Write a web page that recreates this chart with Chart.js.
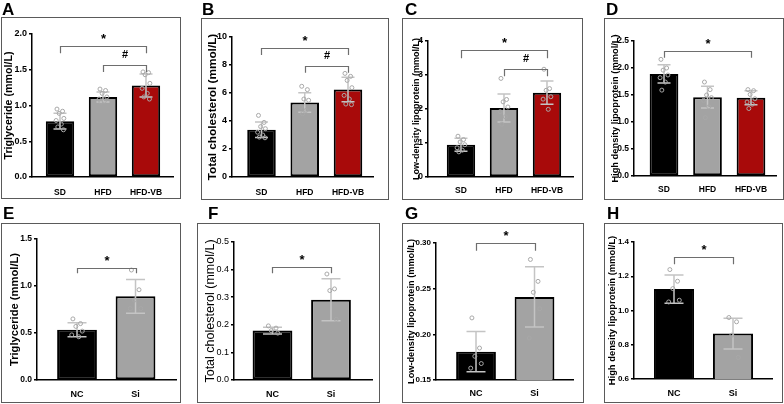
<!DOCTYPE html>
<html><head><meta charset="utf-8">
<script src="https://cdn.jsdelivr.net/npm/chart.js@4.4.1/dist/chart.umd.min.js"></script>
<style>
html,body{margin:0;padding:0;background:#fff;}
#wrap{position:relative;width:784px;height:404px;overflow:hidden;background:#fff;}
.box{position:absolute;box-sizing:border-box;border:1px solid #5a5a5a;pointer-events:none;}
canvas{position:absolute;}
.lab{position:absolute;font:bold 17px "Liberation Sans",Arial,sans-serif;line-height:17px;color:#000;}
</style></head>
<body><div id="wrap"></div>
<script>
// ---------- categories ----------
const topGroups = ['SD', 'HFD', 'HFD-VB'];
const botGroups = ['NC', 'Si'];

// ---------- A: Triglyceride (top) ----------
const tgMeans = [0.78, 1.12, 1.28];
const tgSd = [0.11, 0.07, 0.16];
const tgPoints = [[0.95, 0.92, 0.89, 0.82, 0.79, 0.74, 0.70, 0.66], [1.23, 1.21, 1.17, 1.12, 1.09, 1.06, 1.05], [1.47, 1.46, 1.43, 1.31, 1.24, 1.17, 1.12, 1.09]];
const tgTicks = [0, 0.5, 1.0, 1.5, 2.0];
const tgBrackets = [[0, 2, 1.83, 1.73, '*'], [1, 2, 1.57, 1.47, '#']];

// ---------- B: Total cholesterol (top) ----------
const tcMeans = [3.38, 5.32, 6.25];
const tcSd = [0.55, 0.70, 0.88];
const tcPoints = [[4.4, 3.9, 3.6, 3.45, 3.2, 3.0, 2.85, 2.8], [6.48, 6.24, 5.57, 5.48, 5.0, 4.76, 4.52], [7.4, 7.19, 6.9, 6.38, 5.83, 5.57, 5.21, 5.17]];
const tcTicks = [0, 2, 4, 6, 8, 10];
const tcBrackets = [[0, 2, 9.24, 8.71, '*'], [1, 2, 7.93, 7.45, '#']];

// ---------- C: LDL (top) ----------
const ldlMeans = [0.95, 2.03, 2.48];
const ldlSd = [0.19, 0.41, 0.34];
const ldlPoints = [[1.2, 1.1, 1.03, 0.95, 0.86, 0.79, 0.74], [2.9, 2.28, 2.21, 2.06, 1.92, 1.77, 1.55], [3.17, 2.6, 2.55, 2.36, 2.29, 1.99]];
const ldlTicks = [0, 1, 2, 3, 4];
const ldlBrackets = [[0, 2, 3.735, 3.49, '*'], [1, 2, 3.18, 2.96, '#']];

// ---------- D: HDL (top) ----------
const hdlMeans = [1.89, 1.46, 1.45];
const hdlSd = [0.17, 0.20, 0.13];
const hdlPoints = [[2.16, 2.0, 1.96, 1.87, 1.82, 1.74, 1.59], [1.74, 1.6, 1.5, 1.45, 1.4, 1.28, 1.08], [1.6, 1.58, 1.51, 1.43, 1.37, 1.33, 1.25]];
const hdlTicks = [0, 0.5, 1.0, 1.5, 2.0, 2.5];
const hdlBrackets = [[0, 2, 2.31, 2.19, '*']];

// ---------- E: Triglyceride (bottom) ----------
const tg2Means = [0.535, 0.89];
const tg2Sd = [0.075, 0.18];
const tg2Points = [[0.65, 0.60, 0.57, 0.52, 0.48, 0.46], [1.17, 0.96, 0.85, 0.76, 0.76]];
const tg2Ticks = [0, 0.5, 1.0, 1.5];
const tg2Brackets = [[0, 1, 1.188, 1.135, '*']];

// ---------- F: Total cholesterol (bottom) ----------
const tc2Means = [0.179, 0.291];
const tc2Sd = [0.012, 0.076];
const tc2Points = [[0.196, 0.188, 0.179, 0.170], [0.384, 0.330, 0.324, 0.220]];
const tc2Ticks = [0, 0.1, 0.2, 0.3, 0.4, 0.5];
const tc2Brackets = [[0, 1, 0.41, 0.387, '*']];

// ---------- G: LDL (bottom) ----------
const ldl2Means = [0.181, 0.241];
const ldl2Sd = [0.022, 0.033];
const ldl2Points = [[0.218, 0.185, 0.176, 0.168, 0.163], [0.282, 0.258, 0.246, 0.228, 0.196]];
const ldl2Ticks = [0.15, 0.20, 0.25, 0.30];
const ldl2Brackets = [[0, 1, 0.2996, 0.2915, '*']];

// ---------- H: HDL (bottom) ----------
const hdl2Means = [1.125, 0.865];
const hdl2Sd = [0.082, 0.09];
const hdl2Points = [[1.239, 1.171, 1.128, 1.06, 1.05], [0.959, 0.934, 0.856, 0.726]];
const hdl2Ticks = [0.6, 0.8, 1.0, 1.2, 1.4];
const hdl2Brackets = [[0, 1, 1.31, 1.27, '*']];

// ---------- styles ----------
const jitter = [-0.07, 0.06, -0.02, 0.09, -0.09, 0.03, -0.05, 0.08];
const BLACK = '#000000', GRAY = '#a3a3a3', RED = '#a80a0a';
const SANS = '"Liberation Sans",Arial,sans-serif';

const panels = [
  {letter:'A', lx:2, ly:1, box:[1,17,181,199], plot:[32,34,173,177], groups:topGroups, means:tgMeans, sd:tgSd, pts:tgPoints, ticks:tgTicks, dec:1, br:tgBrackets, colors:[BLACK,GRAY,RED], xmin:-0.651, xmax:2.628, barPct:0.66, title:'Triglyceride (mmol/L)', tsize:10.7, tbold:true, tpad:1.6, ticksize:9, xsize:8.5, xpad:11, cap:13},
  {letter:'B', lx:202, ly:1, box:[201,18,389,200], plot:[232,37,373,177], groups:topGroups, means:tcMeans, sd:tcSd, pts:tcPoints, ticks:tcTicks, dec:0, br:tcBrackets, colors:[BLACK,GRAY,RED], xmin:-0.682, xmax:2.578, barPct:0.66, title:'Total cholesterol (mmol/L)', tsize:11.8, tbold:true, tpad:5, ticksize:9, xsize:8.5, xpad:10.5, cap:13},
  {letter:'C', lx:405, ly:1, box:[402,18,583,200], plot:[428,41,573,177], groups:topGroups, means:ldlMeans, sd:ldlSd, pts:ldlPoints, ticks:ldlTicks, dec:0, br:ldlBrackets, colors:[BLACK,GRAY,RED], xmin:-0.767, xmax:2.605, barPct:0.66, title:'Low-density lipoprotein (mmol/L)', tsize:9, tbold:true, tpad:9.5, ticksize:8.5, xsize:8.5, xpad:8.5, cap:13},
  {letter:'D', lx:606, ly:1, box:[604,18,784,200], plot:[634,41,776,176], groups:topGroups, means:hdlMeans, sd:hdlSd, pts:hdlPoints, ticks:hdlTicks, dec:1, br:hdlBrackets, colors:[BLACK,GRAY,RED], xmin:-0.690, xmax:2.575, barPct:0.66, title:'High density lipoprotein (mmol/L)', tsize:9.3, tbold:true, tpad:5.5, ticksize:8.5, xsize:8.5, xpad:9, cap:13},
  {letter:'E', lx:3, ly:205, box:[1,223,181,403], plot:[37,239,176,380], groups:botGroups, means:tg2Means, sd:tg2Sd, pts:tg2Points, ticks:tg2Ticks, dec:1, br:tg2Brackets, colors:[BLACK,GRAY], xmin:-0.684, xmax:1.692, barPct:0.68, title:'Triglyceride (mmol/L)', tsize:11.2, tbold:true, tpad:7, ticksize:8.5, xsize:9, xpad:9, cap:19},
  {letter:'F', lx:208, ly:205, box:[197,223,380,403], plot:[234,242,372,380], groups:botGroups, means:tc2Means, sd:tc2Sd, pts:tc2Points, ticks:tc2Ticks, dec:1, br:tc2Brackets, colors:[BLACK,GRAY], xmin:-0.658, xmax:1.701, barPct:0.68, title:'Total cholesterol (mmol/L)', tsize:12.5, tbold:false, tpad:6.5, ticksize:9, xsize:9, xpad:8.7, cap:19},
  {letter:'G', lx:405, ly:205, box:[402,223,584,403], plot:[436,243,573,380], groups:botGroups, means:ldl2Means, sd:ldl2Sd, pts:ldl2Points, ticks:ldl2Ticks, dec:2, br:ldl2Brackets, colors:[BLACK,GRAY], xmin:-0.684, xmax:1.658, barPct:0.68, title:'Low-density lipoprotein (mmol/L)', tsize:9.2, tbold:true, tpad:3.5, ticksize:8, xsize:9, xpad:8.5, cap:19},
  {letter:'H', lx:607, ly:205, box:[604,223,783,403], plot:[634,242,772,379], groups:botGroups, means:hdl2Means, sd:hdl2Sd, pts:hdl2Points, ticks:hdl2Ticks, dec:1, br:hdl2Brackets, colors:[BLACK,GRAY], xmin:-0.678, xmax:1.661, barPct:0.68, title:'High density lipoprotein (mmol/L)', tsize:9.4, tbold:true, tpad:3, ticksize:8, xsize:9, xpad:9.3, cap:19}
];

const wrap = document.getElementById('wrap');
const XH = 18;

panels.forEach((p) => {
  const [l, t, r, b] = p.box;
  const [pl, pt, pr, pb] = p.plot;
  const w = r - l, h = b - t;
  const cv = document.createElement('canvas');
  cv.width = w; cv.height = h;
  cv.style.left = l + 'px'; cv.style.top = t + 'px';
  cv.style.width = w + 'px'; cv.style.height = h + 'px';
  wrap.appendChild(cv);
  const bx = document.createElement('div');
  bx.className = 'box';
  bx.style.left = l + 'px'; bx.style.top = t + 'px';
  bx.style.width = w + 'px'; bx.style.height = h + 'px';
  wrap.appendChild(bx);
  const lb = document.createElement('div');
  lb.className = 'lab'; lb.textContent = p.letter;
  lb.style.left = p.lx + 'px'; lb.style.top = p.ly + 'px';
  wrap.appendChild(lb);

  const yW = pl - l, padT = pt - t, padR = r - pr, padB = b - pb - XH;
  const ymin = p.ticks[0], ymax = p.ticks[p.ticks.length - 1];

  const barData = p.means.map((m, i) => ({x: i, y: m}));
  const ptData = [];
  p.pts.forEach((arr, i) => arr.forEach((v, k) => ptData.push({x: i + jitter[k % jitter.length], y: v})));

  const extras = {
    id: 'extras' + p.letter,
    afterDatasetDraw(chart, args) {
      if (args.index !== 0) return;
      const ctx = chart.ctx, xs = chart.scales.x, ys = chart.scales.y;
      ctx.save();
      ctx.strokeStyle = '#c4c4c4';
      ctx.lineWidth = 1.5;
      p.means.forEach((m, i) => {
        const x = xs.getPixelForValue(i);
        const y1 = ys.getPixelForValue(m + p.sd[i]);
        const y2 = ys.getPixelForValue(m - p.sd[i]);
        const c = p.cap / 2;
        ctx.beginPath();
        ctx.moveTo(x, y1); ctx.lineTo(x, y2);
        ctx.moveTo(x - c, y1); ctx.lineTo(x + c, y1);
        ctx.moveTo(x - c, y2); ctx.lineTo(x + c, y2);
        ctx.stroke();
      });
      ctx.restore();
    },
    afterDraw(chart) {
      const ctx = chart.ctx, xs = chart.scales.x, ys = chart.scales.y;
      ctx.save();
      p.br.forEach(([a, bb, yv, ye, txt]) => {
        const xa = Math.round(xs.getPixelForValue(a)) + 0.5, xb = Math.round(xs.getPixelForValue(bb)) + 0.5;
        const yl = Math.round(ys.getPixelForValue(yv)) + 0.5, yend = ys.getPixelForValue(ye);
        ctx.strokeStyle = '#6e6e6e';
        ctx.lineWidth = 1.2;
        ctx.beginPath();
        ctx.moveTo(xa, yend); ctx.lineTo(xa, yl); ctx.lineTo(xb, yl); ctx.lineTo(xb, yend);
        ctx.stroke();
        ctx.fillStyle = '#000';
        ctx.textAlign = 'center';
        ctx.textBaseline = 'alphabetic';
        if (txt === '*') {
          ctx.font = 'bold 13px ' + SANS;
          ctx.fillText(txt, (xa + xb) / 2, yl - 3.5);
        } else {
          ctx.font = 'bold 11px ' + SANS;
          ctx.fillText(txt, (xa + xb) / 2, yl - 7.5);
        }
      });
      ctx.restore();
    }
  };

  new Chart(cv, {
    type: 'bar',
    data: {
      datasets: [
        {type: 'bar', data: barData, backgroundColor: p.colors, borderColor: '#000', borderWidth: 2, borderSkipped: false, barPercentage: p.barPct, categoryPercentage: 1, order: 2},
        {type: 'scatter', data: ptData, pointStyle: 'circle', radius: 2, backgroundColor: 'rgba(0,0,0,0)', borderColor: '#a8a8a8', borderWidth: 1, order: 1}
      ]
    },
    options: {
      responsive: false, animation: false, devicePixelRatio: 1,
      layout: {padding: {left: 0, top: padT, right: padR, bottom: padB}},
      plugins: {legend: {display: false}, tooltip: {enabled: false}},
      scales: {
        x: {
          type: 'linear', min: p.xmin, max: p.xmax, offset: false,
          afterBuildTicks: (s) => { s.ticks = p.groups.map((_, i) => ({value: i})); },
          afterFit: (s) => { s.height = XH; },
          ticks: {callback: (v) => p.groups[Math.round(v)], color: '#000', padding: p.xpad, autoSkip: false, maxRotation: 0,
                  font: {family: SANS, size: p.xsize, weight: 'bold'}},
          grid: {display: false, drawTicks: false},
          border: {display: true, color: '#000', width: 1.5}
        },
        y: {
          type: 'linear', min: ymin, max: ymax,
          afterBuildTicks: (s) => { s.ticks = p.ticks.map(v => ({value: v})); },
          afterFit: (s) => { s.width = yW; },
          ticks: {callback: (v) => Number(v).toFixed(p.dec), color: '#000', padding: 2,
                  font: {family: SANS, size: p.ticksize, weight: p.tbold ? 'bold' : 'normal'}},
          grid: {display: true, drawOnChartArea: false, drawTicks: true, tickLength: 3, color: '#000', lineWidth: 1.5},
          border: {display: true, color: '#000', width: 1.5},
          title: {display: true, text: p.title, color: '#000', padding: {top: p.tpad, bottom: 0},
                  font: {family: SANS, size: p.tsize, weight: p.tbold ? 'bold' : 'normal'}}
        }
      }
    },
    plugins: [extras]
  });
});
</script></body></html>
